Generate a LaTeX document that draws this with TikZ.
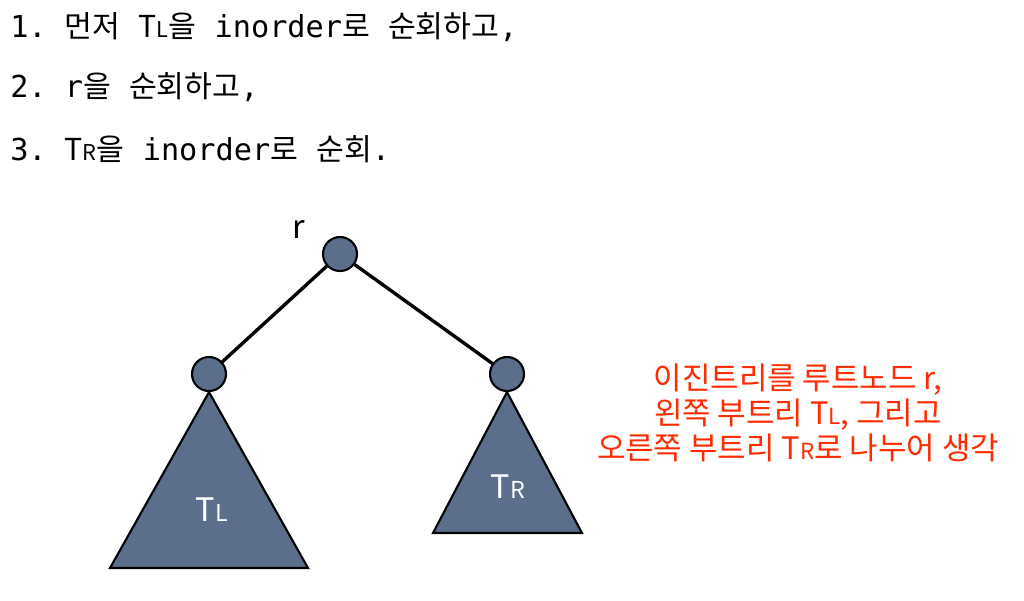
\documentclass[tikz,border=0pt]{standalone}
\usepackage{fontspec}
\usepackage{graphicx}
\setmainfont{Noto Sans CJK KR}
\setmonofont{DejaVu Sans Mono}
\usetikzlibrary{positioning}

\definecolor{treefill}{HTML}{5B6E8C}
\definecolor{notered}{HTML}{FF2A00}
\newcommand{\subtree}[1]{T{\scalebox{0.72}{#1}}}
\newcommand{\mt}[1]{{\ttfamily #1}}

\begin{document}
\begin{tikzpicture}[
    x=0.025cm, y=-0.025cm,
    stepline/.style={anchor=base west, inner sep=0pt, font=\fontsize{21.5}{26}\selectfont},
    vertex/.style={circle, draw, line width=1.5pt, fill=treefill, minimum size=0.85cm, inner sep=0pt},
    edge/.style={line width=2.4pt},
    subtri/.style={draw, line width=1.5pt, fill=treefill},
    trilabel/.style={white, font=\fontsize{23}{26}\selectfont},
    note/.style={notered, align=center, font=\fontsize{22}{25}\selectfont}
]
    \useasboundingbox (0,0) rectangle (1024,600);

    % Steps (top left)
    \node[stepline] (step1) at (10,37) {\mt{1. }먼저\mt{ }\subtree{L}을\mt{ inorder}로\mt{ }순회하고\mt{,}};
    \node[stepline] (step2) at (10,97) {\mt{2. r}을\mt{ }순회하고\mt{,}};
    \node[stepline] (step3) at (10,160) {\mt{3. }\subtree{R}을\mt{ inorder}로\mt{ }순회\mt{.}};

    % Tree
    \node[vertex] (root) at (340,254) {};
    \node[vertex] (left) at (209,374) {};
    \node[vertex] (right) at (507,374) {};
    \node[font=\fontsize{23}{24}\selectfont] (rlabel) at (299,229) {r};

    \draw[edge] (root) -- (left);
    \draw[edge] (root) -- (right);

    % Subtrees
    \draw[subtri] (left.south) -- (308,568) -- (110,568) -- cycle;
    \draw[subtri] (right.south) -- (582,533) -- (433,533) -- cycle;
    \node[trilabel] (tl) at (212,510) {\subtree{L}};
    \node[trilabel] (tr) at (508,487) {\subtree{R}};

    % Note (right)
    \node[note] (note) at (798,413) {이진트리를 루트노드 r,\\왼쪽 부트리 \subtree{L}, 그리고\\오른쪽 부트리 \subtree{R}로 나누어 생각};
\end{tikzpicture}
\end{document}
